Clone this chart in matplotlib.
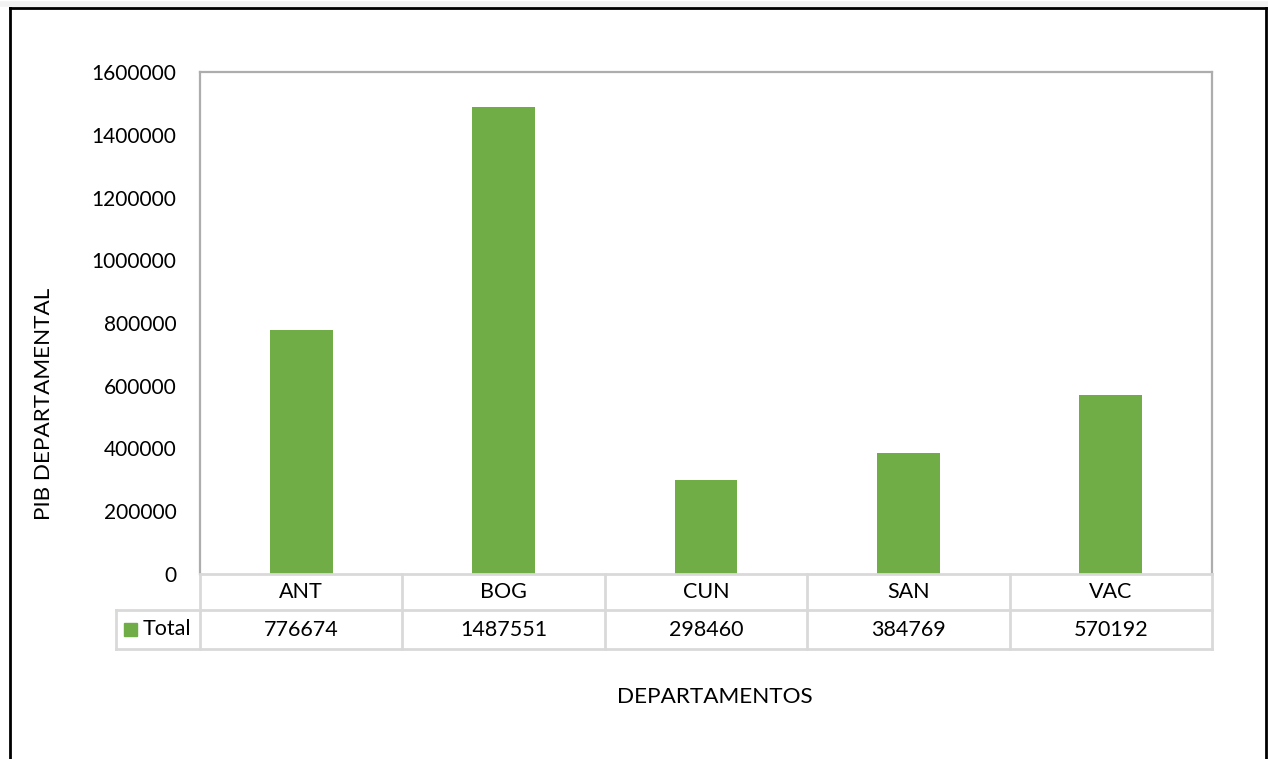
import matplotlib
matplotlib.use("Agg")
import matplotlib.pyplot as plt
from matplotlib.lines import Line2D
from matplotlib.patches import Rectangle
import matplotlib.transforms as mtransforms

# GDP by department
departamentos = ["ANT", "BOG", "CUN", "SAN", "VAC"]
pib_total = [776674, 1487551, 298460, 384769, 570192]
serie = "Total"
y_ticks = [0, 200000, 400000, 600000, 800000, 1000000, 1200000, 1400000, 1600000]

BAR_GREEN = "#70AD47"
GRID_GRAY = "#D9D9D9"
FRAME_GRAY = "#ADADAD"

plt.rcParams["font.family"] = ["Lato", "DejaVu Sans"]

W, H = 1268, 759
fig = plt.figure(figsize=(W / 100, H / 100), dpi=100)

ax = fig.add_axes([200 / W, 1 - 574 / H, 1012 / W, 502 / H])
x = list(range(len(departamentos)))
ax.bar(x, pib_total, width=0.31, color=BAR_GREEN, zorder=2)
ax.set_xlim(-0.5, len(departamentos) - 0.5)
ax.set_ylim(0, 1600000)
ax.set_yticks(y_ticks)
ax.set_yticklabels([str(v) for v in y_ticks], fontsize=15, color="#000000")
ax.set_xticks([])
ax.tick_params(axis="y", length=0, pad=17)

for side in ("top", "right", "left"):
    ax.spines[side].set_color(FRAME_GRAY)
    ax.spines[side].set_linewidth(1.6)
ax.spines["bottom"].set_color(GRID_GRAY)
ax.spines["bottom"].set_linewidth(2)

# Data table under the axis: x in data units, y in axes fraction
trans = mtransforms.blended_transform_factory(ax.transData, ax.transAxes)
row1 = -36 / 502
row2 = -75 / 502
left_edge = -0.5
right_edge = len(departamentos) - 0.5
legend_left = -0.5 - 84 / 202.4

def hline(x0, x1, y):
    ax.add_line(Line2D([x0, x1], [y, y], transform=trans, color=GRID_GRAY,
                       lw=2, clip_on=False, zorder=1))

def vline(xv, y0, y1):
    ax.add_line(Line2D([xv, xv], [y0, y1], transform=trans, color=GRID_GRAY,
                       lw=2, clip_on=False, zorder=1))

hline(legend_left, right_edge, row1)
hline(legend_left, right_edge, row2)
vline(legend_left, row1, row2)
for i in range(len(departamentos) + 1):
    vline(i - 0.5, 0, row2)

for i, (cat, val) in enumerate(zip(departamentos, pib_total)):
    ax.text(i, row1 / 2, cat, transform=trans, ha="center", va="center",
            fontsize=15.5, clip_on=False)
    ax.text(i, (row1 + row2) / 2, str(val), transform=trans, ha="center",
            va="center", fontsize=15.5, clip_on=False)

# Legend key inside the table
fig.patches.append(Rectangle((124 / W, 1 - 636 / H), 13 / W, 13 / H,
                             transform=fig.transFigure, color=BAR_GREEN))
fig.text(143 / W, 1 - 629 / H, serie, ha="left", va="center", fontsize=15.5)

# Axis titles
fig.text(44 / W, 1 - 404 / H, "PIB DEPARTAMENTAL", rotation=90,
         ha="center", va="center", fontsize=16.2)
fig.text(715 / W, 1 - 697 / H, "DEPARTAMENTOS", ha="center", va="center",
         fontsize=16.2)

# Outer chart frame
for xs, ys in (([10, 10], [8, H + 2]), ([10, 1266], [8, 8]), ([1266, 1266], [8, H + 2])):
    fig.lines.append(Line2D([v / W for v in xs], [1 - v / H for v in ys],
                            transform=fig.transFigure, color="black", lw=2))
fig.lines.append(Line2D([0, 1], [1 - 4 / H, 1 - 4 / H], transform=fig.transFigure,
                        color="#F2F2F2", lw=4))

fig.savefig("out.png", dpi=100)
